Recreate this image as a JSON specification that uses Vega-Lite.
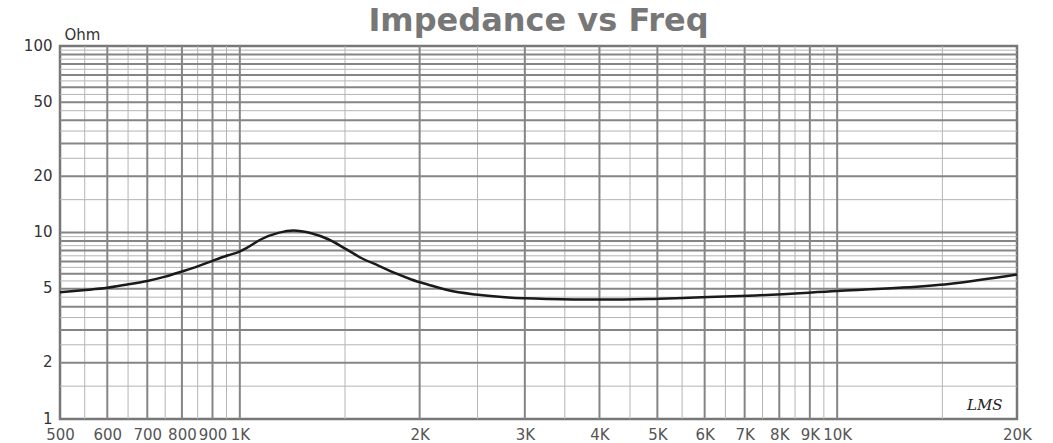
{
  "$schema": "https://vega.github.io/schema/vega-lite/v6.json",
  "width": 957,
  "height": 373,
  "autosize": {"type": "none"},
  "padding": {"left": 60, "top": 46, "right": 36, "bottom": 24},
  "background": "white",
  "title": {"text": "Impedance vs Freq", "font": "DejaVu Sans", "fontSize": 32, "fontWeight": "bold", "color": "#777777", "anchor": "middle", "frame": "group", "offset": -11},
  "config": {"view": {"stroke": "#777777", "strokeWidth": 2.5}},
  "datasets": {
    "imp": [
      {"f": 500, "z": 4.78}, {"f": 546, "z": 4.9}, {"f": 600, "z": 5.05}, {"f": 645, "z": 5.25},
      {"f": 700, "z": 5.5}, {"f": 750, "z": 5.8}, {"f": 800, "z": 6.18}, {"f": 852, "z": 6.6},
      {"f": 900, "z": 7.05}, {"f": 956, "z": 7.55}, {"f": 994, "z": 7.85}, {"f": 1029, "z": 8.3},
      {"f": 1086, "z": 9.2}, {"f": 1160, "z": 9.95}, {"f": 1229, "z": 10.25}, {"f": 1317, "z": 9.9},
      {"f": 1406, "z": 9.2}, {"f": 1501, "z": 8.2}, {"f": 1597, "z": 7.3}, {"f": 1706, "z": 6.65},
      {"f": 1821, "z": 6.05}, {"f": 1937, "z": 5.6}, {"f": 2068, "z": 5.25}, {"f": 2234, "z": 4.9},
      {"f": 2481, "z": 4.65}, {"f": 2816, "z": 4.48}, {"f": 3287, "z": 4.4}, {"f": 3985, "z": 4.37},
      {"f": 4832, "z": 4.4}, {"f": 5643, "z": 4.47}, {"f": 7112, "z": 4.58}, {"f": 10000, "z": 4.85},
      {"f": 12684, "z": 5.05}, {"f": 15385, "z": 5.3}, {"f": 20000, "z": 5.95}
    ],
    "vmajor": [
      {"f": 600}, {"f": 700}, {"f": 800}, {"f": 900}, {"f": 1000}, {"f": 2000}, {"f": 3000},
      {"f": 4000}, {"f": 5000}, {"f": 6000}, {"f": 7000}, {"f": 8000}, {"f": 9000}, {"f": 10000}
    ],
    "vminor": [
      {"f": 550}, {"f": 650}, {"f": 750}, {"f": 850}, {"f": 950}, {"f": 1500}, {"f": 2500},
      {"f": 3500}, {"f": 4500}, {"f": 5500}, {"f": 6500}, {"f": 7500}, {"f": 8500}, {"f": 9500}, {"f": 15000}
    ],
    "hmajor": [
      {"z": 2}, {"z": 3}, {"z": 4}, {"z": 5}, {"z": 6}, {"z": 7}, {"z": 8}, {"z": 9}, {"z": 10},
      {"z": 20}, {"z": 30}, {"z": 40}, {"z": 50}, {"z": 60}, {"z": 70}, {"z": 80}, {"z": 90}
    ],
    "hminor": [
      {"z": 1.5}, {"z": 2.5}, {"z": 3.5}, {"z": 4.5}, {"z": 5.5}, {"z": 6.5}, {"z": 7.5}, {"z": 8.5}, {"z": 9.5},
      {"z": 15}, {"z": 25}, {"z": 35}, {"z": 45}, {"z": 55}, {"z": 65}, {"z": 75}, {"z": 85}, {"z": 95}
    ],
    "logo": [{"f": 17660, "z": 1.19, "t": "LMS"}]
  },
  "layer": [
    {
      "data": {"name": "imp"},
      "mark": {"type": "line", "color": "#1a1a1a", "strokeWidth": 2.5, "interpolate": "monotone", "opacity": 0},
      "encoding": {
        "x": {"field": "f", "type": "quantitative", "scale": {"type": "log", "domain": [500, 20000], "nice": false},
          "axis": {"values": [500, 600, 700, 800, 900, 1000, 2000, 3000, 4000, 5000, 6000, 7000, 8000, 9000, 10000, 20000],
            "labelExpr": "datum.value >= 1000 ? (datum.value / 1000) + 'K' : datum.value",
            "grid": false, "ticks": false, "domain": false, "title": null,
            "labelFont": "DejaVu Sans", "labelFontSize": 15, "labelColor": "#555555", "labelPadding": 8,
            "labelFlush": false, "labelOverlap": false}},
        "y": {"field": "z", "type": "quantitative", "scale": {"type": "log", "domain": [1, 100], "nice": false},
          "axis": {"values": [1, 2, 5, 10, 20, 50, 100], "format": "d",
            "grid": false, "ticks": false, "domain": false,
            "title": "Ohm", "titleAngle": 0, "titleAlign": "left", "titleBaseline": "alphabetic",
            "titleX": 4, "titleY": -7, "titleFont": "DejaVu Sans", "titleFontSize": 15, "titleFontWeight": "normal", "titleColor": "#333333",
            "labelFont": "DejaVu Sans", "labelFontSize": 15, "labelColor": "#333333", "labelPadding": 8, "labelOffset": -1,
            "labelFlush": false, "labelOverlap": false}}
      }
    },
    {
      "data": {"name": "vminor"},
      "mark": {"type": "rule", "color": "#b4b4b4", "strokeWidth": 1},
      "encoding": {"x": {"field": "f", "type": "quantitative", "scale": {"type": "log", "domain": [500, 20000], "nice": false}}}
    },
    {
      "data": {"name": "hminor"},
      "mark": {"type": "rule", "color": "#b4b4b4", "strokeWidth": 1},
      "encoding": {"y": {"field": "z", "type": "quantitative", "scale": {"type": "log", "domain": [1, 100], "nice": false}}}
    },
    {
      "data": {"name": "vmajor"},
      "mark": {"type": "rule", "color": "#858585", "strokeWidth": 2},
      "encoding": {"x": {"field": "f", "type": "quantitative", "scale": {"type": "log", "domain": [500, 20000], "nice": false}}}
    },
    {
      "data": {"name": "hmajor"},
      "mark": {"type": "rule", "color": "#858585", "strokeWidth": 2},
      "encoding": {"y": {"field": "z", "type": "quantitative", "scale": {"type": "log", "domain": [1, 100], "nice": false}}}
    },
    {
      "data": {"name": "imp"},
      "mark": {"type": "line", "color": "#1a1a1a", "strokeWidth": 2.5, "interpolate": "monotone"},
      "encoding": {
        "x": {"field": "f", "type": "quantitative", "scale": {"type": "log", "domain": [500, 20000], "nice": false}},
        "y": {"field": "z", "type": "quantitative", "scale": {"type": "log", "domain": [1, 100], "nice": false}}
      }
    },
    {
      "data": {"name": "logo"},
      "mark": {"type": "text", "font": "DejaVu Serif", "fontStyle": "italic", "fontSize": 15, "color": "#222222"},
      "encoding": {
        "x": {"field": "f", "type": "quantitative", "scale": {"type": "log", "domain": [500, 20000], "nice": false}},
        "y": {"field": "z", "type": "quantitative", "scale": {"type": "log", "domain": [1, 100], "nice": false}},
        "text": {"field": "t"}
      }
    }
  ]
}
